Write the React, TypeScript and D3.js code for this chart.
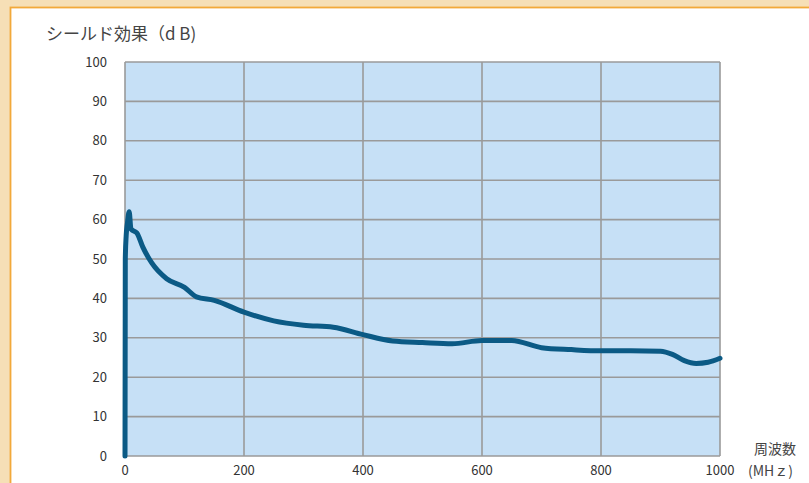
import React from "react";
import * as d3 from "d3";

const freqs = [0, 0.5, 2, 4, 7, 10, 20, 30, 45, 70, 100, 120, 150, 200, 250, 300, 350, 400, 450, 500, 550, 600, 650, 700, 750, 800, 850, 900, 920, 940, 960, 980, 1000];
const shield = [0, 50, 56, 59, 62, 57.6, 56.6, 53, 49, 45, 42.8, 40.4, 39.5, 36.5, 34.3, 33.2, 32.7, 30.8, 29.2, 28.8, 28.5, 29.3, 29.3, 27.5, 27.0, 26.7, 26.7, 26.6, 25.8, 24.2, 23.5, 23.8, 24.8];
const yTicks = [0, 10, 20, 30, 40, 50, 60, 70, 80, 90, 100];
const xTicks = [0, 200, 400, 600, 800, 1000];

export default function App() {
  const W = 809, H = 483;
  const x = d3.scaleLinear().domain([0, 1000]).range([125, 720]);
  const y = d3.scaleLinear().domain([0, 100]).range([456, 62]);
  const pts = freqs.map((f, i) => [f, shield[i]] as [number, number]);
  const line = d3.line<[number, number]>().x(d => x(d[0])).y(d => y(d[1])).curve(d3.curveMonotoneX);
  return (
    <svg width={W} height={H} style={{ position: "absolute", left: 0, top: 0 }} fontFamily="'Noto Sans CJK JP', 'Noto Sans', sans-serif">
      <rect x={0} y={0} width={W} height={H} fill="#f6dfb6" />
      <rect x={10.5} y={7.5} width={W + 10} height={H + 10} fill="#ffffff" stroke="#f2a93a" strokeWidth={1.8} />
      <text x={46} y={40} fontSize={17} fill="#444">シールド効果（d B)</text>
      <rect x={x(0)} y={y(100)} width={x(1000) - x(0)} height={y(0) - y(100)} fill="#c6e0f6" />
      {yTicks.map(t => (
        <line key={"y" + t} x1={x(0)} x2={x(1000)} y1={y(t)} y2={y(t)} stroke="#9a9a9a" strokeWidth={1.6} />
      ))}
      {xTicks.map(t => (
        <line key={"x" + t} x1={x(t)} x2={x(t)} y1={y(0)} y2={y(100)} stroke="#9a9a9a" strokeWidth={1.6} />
      ))}
      {yTicks.map(t => (
        <text key={"yl" + t} x={107} y={y(t) + 4.5} fontSize={13} fill="#333" textAnchor="end">{t}</text>
      ))}
      {xTicks.map(t => (
        <text key={"xl" + t} x={x(t)} y={475} fontSize={13} fill="#333" textAnchor="middle">{t}</text>
      ))}
      <path d={line(pts) || ""} fill="none" stroke="#0b5a85" strokeWidth={5} strokeLinejoin="round" strokeLinecap="round" />
      <text x={754} y={454} fontSize={14} fill="#444">周波数</text>
      <text x={748} y={476} fontSize={14} fill="#444">(MHｚ)</text>
    </svg>
  );
}
